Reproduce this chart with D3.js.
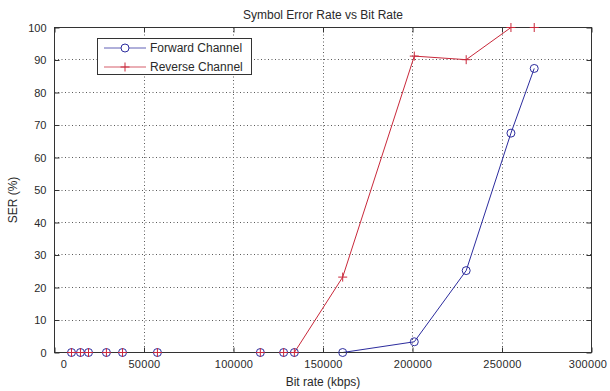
<!DOCTYPE html>
<html>
<head>
<meta charset="utf-8">
<script src="https://cdn.jsdelivr.net/npm/d3@7"></script>
<style>
  html, body { margin: 0; padding: 0; background: #fff; }
  svg { display: block; font-family: "Liberation Sans", Arial, sans-serif; }
</style>
</head>
<body>
<svg id="chart" width="610" height="391"></svg>
<script>
// Measured bit rates (kbps) and symbol error rate (%) for each channel
const bitRates   = [9500, 14500, 19000, 29000, 38000, 57500, 115000, 128000, 134000, 161000, 201000, 230000, 255000, 268000];
const forwardSER = [0, 0, 0, 0, 0, 0, 0, 0, 0, 0, 3.3, 25.2, 67.5, 87.4];
const reverseSER = [0, 0, 0, 0, 0, 0, 0, 0, 0, 23.2, 91.2, 90.1, 100, 100];
const xTicks = [0, 50000, 100000, 150000, 200000, 250000, 300000];
const yTicks = [0, 10, 20, 30, 40, 50, 60, 70, 80, 90, 100];
const seriesNames = ["Forward Channel", "Reverse Channel"];

const svg = d3.select("#chart");
const W = 610, H = 391;
// plot box edges, on half pixels so 1px strokes stay crisp
const x0 = 54.5, x1 = 591.5, y0 = 352.5, y1 = 27.5;

const x = d3.scaleLinear().domain([0, 300000]).range([x0, x1]);
const y = d3.scaleLinear().domain([0, 100]).range([y0, y1]);

const textColor = "#2a2a2a";
const axisColor = "#333";
const blue = "#2c2c9e";
const red = "#c9283a";

// dotted grid
const grid = svg.append("g").attr("stroke", "#5a5a5a").attr("stroke-dasharray", "1,2.5").attr("stroke-width", 1);
grid.selectAll("line.gx").data(xTicks.slice(1, -1)).join("line")
  .attr("x1", d => Math.floor(x(d)) + 0.5).attr("x2", d => Math.floor(x(d)) + 0.5)
  .attr("y1", y1).attr("y2", y0);
grid.selectAll("line.gy").data(yTicks.slice(1, -1)).join("line")
  .attr("y1", d => Math.floor(y(d)) + 0.5).attr("y2", d => Math.floor(y(d)) + 0.5)
  .attr("x1", x0).attr("x2", x1);

// data lines and markers
const fwd = bitRates.map((b, i) => [b, forwardSER[i]]);
const rev = bitRates.map((b, i) => [b, reverseSER[i]]);
const line = d3.line().x(d => x(d[0])).y(d => y(d[1]));
const plusPath = "M-4.5,0H4.5M0,-4.5V4.5";

svg.append("path").datum(fwd).attr("d", line).attr("fill", "none").attr("stroke", blue).attr("stroke-width", 1);
svg.append("path").datum(rev).attr("d", line).attr("fill", "none").attr("stroke", red).attr("stroke-width", 1);

// plot box drawn over the lines so the zero segments sit under the axis
svg.append("rect").attr("x", x0).attr("y", y1)
  .attr("width", x1 - x0).attr("height", y0 - y1)
  .attr("fill", "none").attr("stroke", axisColor).attr("stroke-width", 1);

svg.append("g").selectAll("circle").data(fwd).join("circle")
  .attr("cx", d => x(d[0])).attr("cy", d => y(d[1])).attr("r", 4)
  .attr("fill", "none").attr("stroke", blue).attr("stroke-width", 1);
svg.append("g").selectAll("path").data(rev).join("path")
  .attr("transform", d => `translate(${x(d[0])},${y(d[1])})`)
  .attr("d", plusPath)
  .attr("fill", "none").attr("stroke", red).attr("stroke-width", 1);

// axes with inward ticks on all four sides
const tickLen = 5;
const xAxis = svg.append("g").attr("transform", `translate(0,${y0})`)
  .call(d3.axisBottom(x).tickValues(xTicks).tickFormat(d3.format("d")).tickSizeInner(-tickLen).tickSizeOuter(0).tickPadding(8));
const yAxis = svg.append("g").attr("transform", `translate(${x0},0)`)
  .call(d3.axisLeft(y).tickValues(yTicks).tickFormat(d3.format("d")).tickSizeInner(-tickLen).tickSizeOuter(0).tickPadding(8));
const xTop = svg.append("g").attr("transform", `translate(0,${y1})`)
  .call(d3.axisTop(x).tickValues(xTicks).tickFormat("").tickSizeInner(-tickLen).tickSizeOuter(0));
const yRight = svg.append("g").attr("transform", `translate(${x1},0)`)
  .call(d3.axisRight(y).tickValues(yTicks).tickFormat("").tickSizeInner(-tickLen).tickSizeOuter(0));

[xAxis, yAxis, xTop, yRight].forEach(g => {
  g.select(".domain").remove();
  g.selectAll(".tick line").attr("stroke", axisColor);
  g.selectAll("text").attr("fill", textColor).attr("font-size", 11)
    .attr("font-family", "'Liberation Sans', Arial, sans-serif");
});
xAxis.selectAll("text").attr("letter-spacing", "0.3px");
xAxis.selectAll(".tick").filter(d => d === 0).select("text").attr("dx", 9);
xAxis.selectAll(".tick").filter(d => d === 300000).select("text").attr("dx", -4);

// title and axis labels
svg.append("text").attr("x", (x0 + x1) / 2).attr("y", 19).attr("text-anchor", "middle")
  .attr("font-size", 12).attr("fill", textColor).text("Symbol Error Rate vs Bit Rate");
svg.append("text").attr("x", (x0 + x1) / 2).attr("y", 386).attr("text-anchor", "middle")
  .attr("font-size", 12).attr("fill", textColor).text("Bit rate (kbps)");
svg.append("text").attr("transform", "translate(17,200) rotate(-90)").attr("text-anchor", "middle")
  .attr("font-size", 12).attr("fill", textColor).text("SER (%)");

// legend
const lg = svg.append("g");
lg.append("rect").attr("x", 97.5).attr("y", 38.5).attr("width", 154).attr("height", 36)
  .attr("fill", "#fff").attr("stroke", axisColor).attr("stroke-width", 1);
const rows = [{ name: seriesNames[0], color: blue, mark: "circle" }, { name: seriesNames[1], color: red, mark: "plus" }];
rows.forEach((r, i) => {
  const cy = 48 + i * 19;
  lg.append("line").attr("x1", 104).attr("x2", 146).attr("y1", cy).attr("y2", cy)
    .attr("stroke", r.color).attr("stroke-width", 1).attr("opacity", 0.75);
  if (r.mark === "circle") {
    lg.append("circle").attr("cx", 125).attr("cy", cy).attr("r", 4)
      .attr("fill", "#fff").attr("stroke", r.color);
  } else {
    lg.append("path").attr("transform", `translate(125,${cy})`).attr("d", plusPath)
      .attr("stroke", r.color).attr("fill", "none");
  }
  lg.append("text").attr("x", 150).attr("y", cy + 4).attr("font-size", 12)
    .attr("fill", textColor).text(r.name);
});
</script>
</body>
</html>
